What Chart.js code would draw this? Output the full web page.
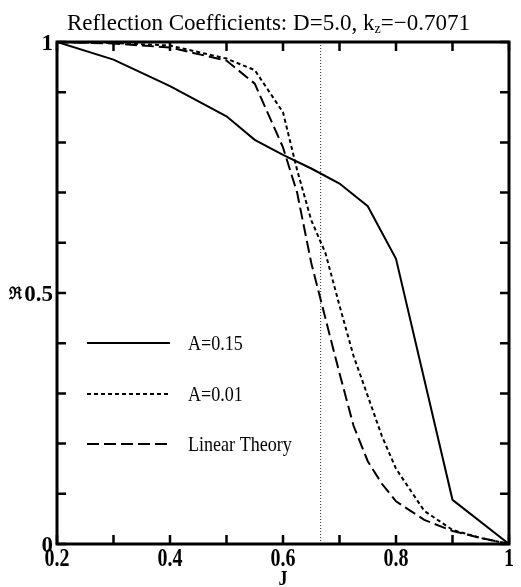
<!DOCTYPE html>
<html><head><meta charset="utf-8">
<script src="https://cdn.jsdelivr.net/npm/chart.js@4/dist/chart.umd.min.js"></script>
<style>html,body{margin:0;padding:0;background:#fff}#c{display:block}</style>
</head><body>
<canvas id="c" width="521" height="587"></canvas>
<script>
// ---- text ----
const TITLE_MAIN = 'Reflection Coefficients: D=5.0, k';
const TITLE_SUB = 'z';
const TITLE_END = '=\u22120.7071';
const X_LABEL = 'J';
const Y_LABEL = '\u211C';

// ---- data ----
const J_A15 = [0.2, 0.3, 0.4, 0.5, 0.55, 0.6, 0.65, 0.7, 0.75, 0.8, 0.9, 1.0];
const R_A15 = [1.0, 0.965, 0.912, 0.852, 0.805, 0.775, 0.748, 0.718, 0.673, 0.568, 0.088, 0.0];

const J_FINE = [0.2, 0.3, 0.4, 0.5, 0.55, 0.6, 0.625, 0.65, 0.675, 0.7, 0.725, 0.75, 0.775, 0.8, 0.85, 0.9, 0.95, 1.0];
const R_A01  = [1.0, 0.998, 0.993, 0.967, 0.944, 0.86, 0.745, 0.645, 0.58, 0.475, 0.374, 0.295, 0.215, 0.15, 0.066, 0.028, 0.012, 0.0];
const R_LIN  = [1.0, 0.997, 0.989, 0.963, 0.917, 0.79, 0.70, 0.56, 0.45, 0.34, 0.235, 0.165, 0.12, 0.085, 0.048, 0.026, 0.012, 0.0];

const J_MARK = [2/3, 2/3];
const R_MARK = [0, 1];

const SERIES_LABELS = ['A=0.15', 'A=0.01', 'Linear Theory'];

// ---- ticks ----
const X_TICKS = [0.2, 0.3, 0.4, 0.5, 0.6, 0.7, 0.8, 0.9, 1.0];
const X_LABEL_VALUES = [0.2, 0.4, 0.6, 0.8, 1.0];
const X_LABEL_TEXT = ['0.2', '0.4', '0.6', '0.8', '1'];
const Y_TICKS = [0, 0.1, 0.2, 0.3, 0.4, 0.5, 0.6, 0.7, 0.8, 0.9, 1.0];
const Y_LABEL_VALUES = [0, 0.5, 1.0];
const Y_LABEL_TEXT = ['0', '0.5', '1'];

const pts = (xs, ys) => xs.map((x, i) => ({x: x, y: ys[i]}));

function drawScaledText(ctx, text, x, y, align, sx) {
  const w = ctx.measureText(text).width * sx;
  let x0 = x;
  if (align === 'center') x0 = x - w / 2;
  else if (align === 'right') x0 = x - w;
  ctx.save();
  ctx.translate(x0, y);
  ctx.scale(sx, 1);
  ctx.textAlign = 'left';
  ctx.fillText(text, 0, 0);
  ctx.restore();
  return w;
}

const decor = {
  id: 'decor',
  afterDraw(chart) {
    const ctx = chart.ctx;
    const a = chart.chartArea;
    const xs = chart.scales.x, ys = chart.scales.y;
    ctx.save();
    ctx.fillStyle = '#000';
    ctx.strokeStyle = '#000';
    // frame
    ctx.lineWidth = 3;
    ctx.strokeRect(a.left, a.top, a.right - a.left, a.bottom - a.top);
    // ticks (inward)
    ctx.lineWidth = 2.5;
    const TL = 9;
    ctx.beginPath();
    X_TICKS.forEach(v => {
      const px = xs.getPixelForValue(v);
      ctx.moveTo(px, a.bottom); ctx.lineTo(px, a.bottom - TL);
      ctx.moveTo(px, a.top); ctx.lineTo(px, a.top + TL);
    });
    Y_TICKS.forEach(v => {
      const py = ys.getPixelForValue(v);
      ctx.moveTo(a.left, py); ctx.lineTo(a.left + TL, py);
      ctx.moveTo(a.right, py); ctx.lineTo(a.right - TL, py);
    });
    ctx.stroke();
    // tick labels
    ctx.textBaseline = 'alphabetic';
    ctx.font = 'bold 26px "Liberation Serif"';
    X_LABEL_VALUES.forEach((v, i) => {
      drawScaledText(ctx, X_LABEL_TEXT[i], xs.getPixelForValue(v), a.bottom + 22, 'center', 0.77);
    });
    ctx.font = 'bold 23px "Liberation Serif"';
    Y_LABEL_VALUES.forEach((v, i) => {
      drawScaledText(ctx, Y_LABEL_TEXT[i], a.left - 4, ys.getPixelForValue(v) + 8, 'right', 1.0);
    });
    // axis labels
    ctx.font = 'bold 20px "Liberation Serif"';
    drawScaledText(ctx, X_LABEL, (a.left + a.right) / 2, a.bottom + 41, 'center', 0.9);
    ctx.font = 'bold 17px "DejaVu Serif"';
    const y5 = ys.getPixelForValue(0.5);
    drawScaledText(ctx, Y_LABEL, 22, y5 + 6, 'right', 0.9);
    // title
    ctx.font = '23px "Liberation Serif"';
    const w1 = ctx.measureText(TITLE_MAIN).width;
    const w3 = ctx.measureText(TITLE_END).width;
    ctx.font = '14px "Liberation Serif"';
    const w2 = ctx.measureText(TITLE_SUB).width;
    const target = 403;
    const sx = target / (w1 + w2 + w3);
    let tx = 67;
    const tb = 30;
    ctx.font = '23px "Liberation Serif"';
    tx += drawScaledText(ctx, TITLE_MAIN, tx, tb, 'left', sx);
    ctx.font = '14px "Liberation Serif"';
    tx += drawScaledText(ctx, TITLE_SUB, tx, tb + 3, 'left', sx);
    ctx.font = '23px "Liberation Serif"';
    drawScaledText(ctx, TITLE_END, tx, tb, 'left', sx);
    // legend
    const legendY = [343, 394, 444];
    ctx.font = '21px "Liberation Serif"';
    ctx.textBaseline = 'middle';
    for (let i = 0; i < 3; i++) {
      const ds = chart.data.datasets[i];
      ctx.save();
      ctx.lineWidth = ds.borderWidth;
      ctx.setLineDash(ds.borderDash || []);
      ctx.beginPath();
      ctx.moveTo(87, legendY[i]);
      ctx.lineTo(170, legendY[i]);
      ctx.stroke();
      ctx.restore();
      drawScaledText(ctx, ds.label, 188, legendY[i] + 1, 'left', 0.86);
    }
    ctx.restore();
  }
};

new Chart(document.getElementById('c'), {
  type: 'line',
  data: {
    datasets: [
      {label: SERIES_LABELS[0], data: pts(J_A15, R_A15), borderColor: '#000', borderWidth: 2, pointRadius: 0, tension: 0},
      {label: SERIES_LABELS[1], data: pts(J_FINE, R_A01), borderColor: '#000', borderWidth: 2, borderDash: [4, 3], pointRadius: 0, tension: 0},
      {label: SERIES_LABELS[2], data: pts(J_FINE, R_LIN), borderColor: '#000', borderWidth: 2, borderDash: [12, 5], pointRadius: 0, tension: 0},
      {label: 'mark', data: pts(J_MARK, R_MARK), borderColor: '#222', borderWidth: 1, borderDash: [1, 2], pointRadius: 0, tension: 0}
    ]
  },
  options: {
    responsive: false,
    animation: false,
    layout: {padding: {left: 57, top: 42, right: 12, bottom: 43}},
    plugins: {legend: {display: false}, title: {display: false}, tooltip: {enabled: false}},
    scales: {
      x: {type: 'linear', min: 0.2, max: 1.0, display: false},
      y: {type: 'linear', min: 0, max: 1.0, display: false}
    }
  },
  plugins: [decor]
});
</script>
</body></html>
